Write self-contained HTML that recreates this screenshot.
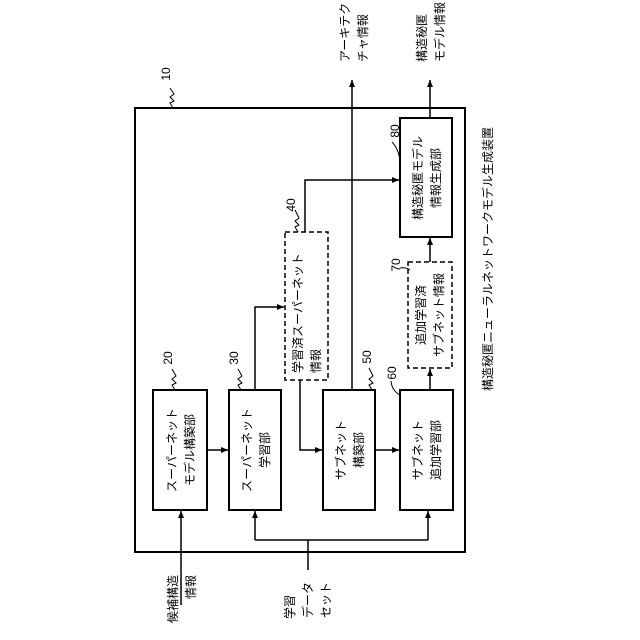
<!DOCTYPE html>
<html><head><meta charset="utf-8"><style>body{margin:0;background:#fff}svg{display:block}text{font-family:"Liberation Sans","Noto Sans CJK JP",sans-serif;font-size:12px;fill:#000}</style></head><body>
<svg width="640" height="640" viewBox="0 0 640 640" xmlns="http://www.w3.org/2000/svg">
<defs><marker id="a" markerWidth="8" markerHeight="8" refX="7" refY="4" orient="auto" markerUnits="userSpaceOnUse"><path d="M0,1 L7,4 L0,7 Z" fill="#000"/></marker></defs>
<g fill="none" stroke="#000" stroke-width="1.5">
<rect x="135" y="108" width="330" height="444" stroke-width="2"/>
<rect x="153" y="390" width="54" height="120" stroke-width="2"/>
<rect x="229" y="390" width="52" height="120" stroke-width="2"/>
<rect x="323" y="390" width="52" height="120" stroke-width="2"/>
<rect x="400" y="390" width="53" height="120" stroke-width="2"/>
<rect x="400" y="118" width="52" height="119" stroke-width="2"/>
<rect x="285" y="232" width="43" height="148" stroke-dasharray="5,3"/>
<rect x="408" y="262" width="44" height="106" stroke-dasharray="5,3"/>
<path d="M207 450 H228" marker-end="url(#a)"/>
<path d="M255 390 V307 H284" marker-end="url(#a)"/>
<path d="M300 380 V450 H322" marker-end="url(#a)"/>
<path d="M305 232 V180 H399" marker-end="url(#a)"/>
<path d="M352 390 V80" marker-end="url(#a)"/>
<path d="M375 450 H399" marker-end="url(#a)"/>
<path d="M430 390 V369" marker-end="url(#a)"/>
<path d="M430 262 V238" marker-end="url(#a)"/>
<path d="M430 118 V80" marker-end="url(#a)"/>
<path d="M181 605 V511" marker-end="url(#a)"/>
<path d="M308 570 V540"/>
<path d="M255 540 H428"/>
<path d="M255 540 V511" marker-end="url(#a)"/>
<path d="M428 540 V511" marker-end="url(#a)"/>
<path d="M173 108 l-3 -5 l4 -2 l-4 -4 l4 -3 l-4 -6" stroke-width="1"/>
<path d="M175 390 l-3 -5 l4 -2 l-4 -4 l4 -3 l-4 -7" stroke-width="1"/>
<path d="M241 390 l-3 -5 l4 -2 l-4 -4 l4 -3 l-4 -7" stroke-width="1"/>
<path d="M298 232 l-3 -5 l4 -2 l-4 -4 l4 -3 l-4 -8" stroke-width="1"/>
<path d="M372 390 l-3 -5 l4 -2 l-4 -4 l4 -3 l-4 -8" stroke-width="1"/>
<path d="M400 395 q-8 -4 -9 -14" stroke-width="1"/>
<path d="M410 270 q-4 -3 -10 -2" stroke-width="1"/>
<path d="M400 160 q-2 -12 -8 -18" stroke-width="1"/>
</g>
<g text-anchor="middle" dominant-baseline="central">
<text transform="translate(166,74) rotate(-90)">10</text>
<text transform="translate(168,358) rotate(-90)">20</text>
<text transform="translate(234,358) rotate(-90)">30</text>
<text transform="translate(291,205) rotate(-90)">40</text>
<text transform="translate(367,357) rotate(-90)">50</text>
<text transform="translate(392,373) rotate(-90)">60</text>
<text transform="translate(396,265) rotate(-90)">70</text>
<text transform="translate(395,131) rotate(-90)">80</text>
<text transform="translate(172,450) rotate(-90)">スーパーネット</text>
<text transform="translate(190,450) rotate(-90)">モデル構築部</text>
<text transform="translate(247,450) rotate(-90)">スーパーネット</text>
<text transform="translate(265,450) rotate(-90)">学習部</text>
<text transform="translate(341,450) rotate(-90)">サブネット</text>
<text transform="translate(359,450) rotate(-90)">構築部</text>
<text transform="translate(418,450) rotate(-90)">サブネット</text>
<text transform="translate(436,450) rotate(-90)">追加学習部</text>
<text transform="translate(418,178) rotate(-90)">構造秘匿モデル</text>
<text transform="translate(436,178) rotate(-90)">情報生成部</text>
<text transform="translate(298,373) rotate(-90)" text-anchor="start">学習済スーパーネット</text>
<text transform="translate(316,373) rotate(-90)" text-anchor="start">情報</text>
<text transform="translate(421,315) rotate(-90)">追加学習済</text>
<text transform="translate(439,315) rotate(-90)">サブネット情報</text>
<text transform="translate(345,62) rotate(-90)" text-anchor="start">アーキテク</text>
<text transform="translate(363,62) rotate(-90)" text-anchor="start">チャ情報</text>
<text transform="translate(422,62) rotate(-90)" text-anchor="start">構造秘匿</text>
<text transform="translate(440,62) rotate(-90)" text-anchor="start">モデル情報</text>
<text transform="translate(488,259) rotate(-90)">構造秘匿ニューラルネットワークモデル生成装置</text>
<text transform="translate(173,575) rotate(-90)" text-anchor="end">候補構造</text>
<text transform="translate(191,575) rotate(-90)" text-anchor="end">情報</text>
<text transform="translate(290,607) rotate(-90)">学習</text>
<text transform="translate(308,600) rotate(-90)">データ</text>
<text transform="translate(326,600) rotate(-90)">セット</text>
</g>
</svg>
</body></html>
